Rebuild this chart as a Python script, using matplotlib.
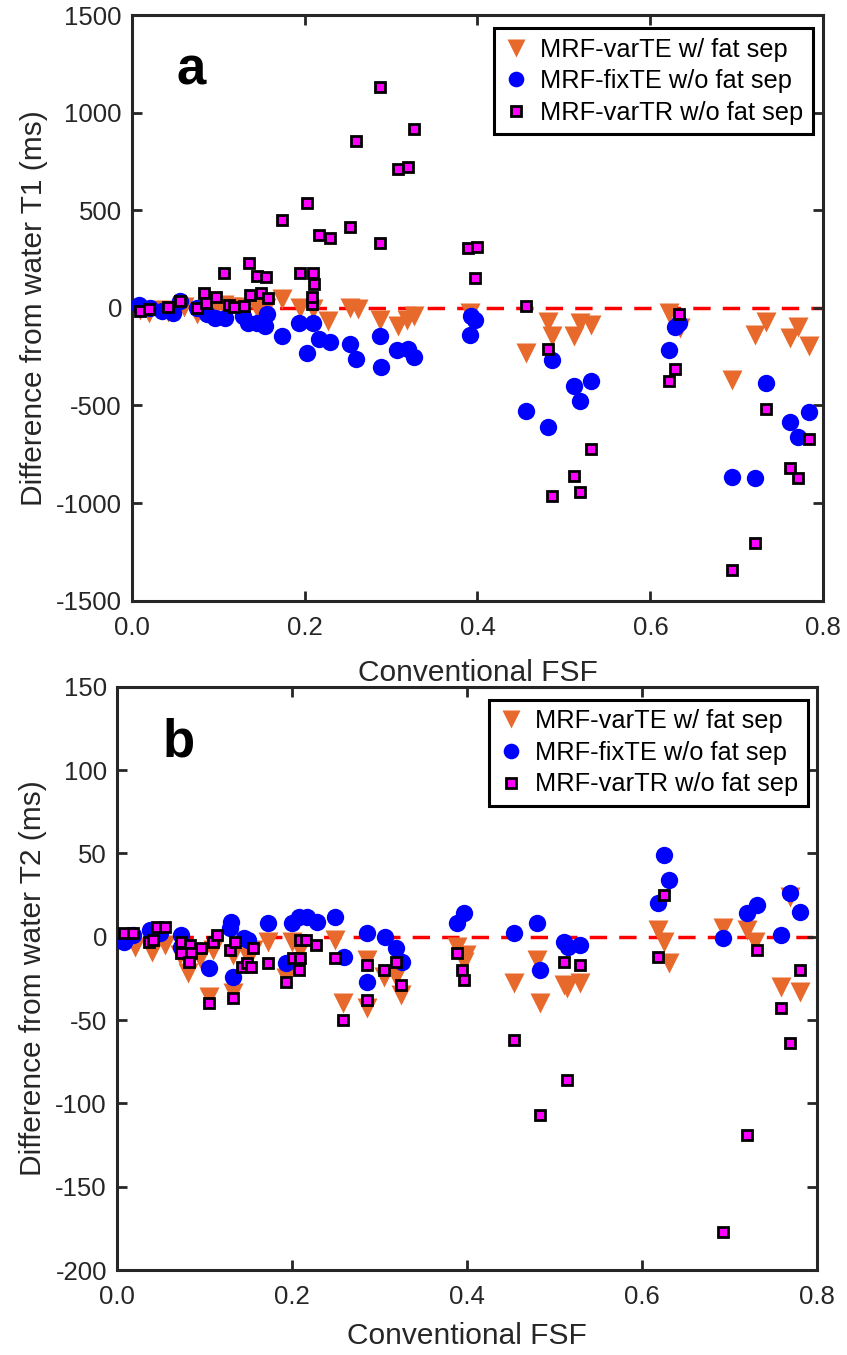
import numpy as np
import matplotlib.pyplot as plt
from matplotlib.ticker import FormatStrFormatter

plt.rcParams['font.family'] = ['Liberation Sans', 'DejaVu Sans']
plt.rcParams['axes.unicode_minus'] = False

# ---- panel a : T1 differences (ms) ----
t1_varte_fsf = [0.010, 0.020, 0.035, 0.042, 0.050, 0.060, 0.075, 0.087, 0.096, 0.107, 0.115, 0.130,
                0.145, 0.155, 0.174, 0.195, 0.210, 0.227, 0.252, 0.262, 0.287, 0.308, 0.318, 0.326,
                0.391, 0.456, 0.481, 0.486, 0.512, 0.518, 0.531, 0.621, 0.634, 0.694, 0.721, 0.734,
                0.761, 0.771, 0.783]
t1_varte = [-10, -25, -10, -20, -15, 5, -30, -20, -10, 17, 5, 5,
            0, 0, 43, 0, -5, -68, 0, -5, -61, -94, -61, -43,
            -26, -231, -74, -146, -146, -77, -89, -26, -103, -368, -137, -72,
            -154, -99, -197]

t1_fixte_fsf = [0.009, 0.021, 0.035, 0.048, 0.056, 0.075, 0.087, 0.096, 0.108, 0.129, 0.135, 0.145,
                0.154, 0.156, 0.174, 0.194, 0.203, 0.210, 0.217, 0.229, 0.252, 0.259, 0.287, 0.288,
                0.307, 0.320, 0.326, 0.391, 0.393, 0.397, 0.456, 0.481, 0.486, 0.512, 0.518, 0.531,
                0.621, 0.628, 0.633, 0.694, 0.721, 0.734, 0.761, 0.771, 0.783]
t1_fixte = [17, 0, -17, -25, 34, 0, -34, -51, -51, -43, -77, -77,
            -94, -34, -144, -77, -231, -77, -157, -175, -183, -260, -144, -305,
            -214, -209, -254, -137, -43, -60, -528, -609, -265, -398, -476, -377,
            -214, -99, -77, -866, -874, -386, -586, -660, -535]

t1_vartr_fsf = [0.010, 0.020, 0.042, 0.056, 0.075, 0.084, 0.086, 0.097, 0.107, 0.112, 0.118, 0.130,
                0.136, 0.137, 0.145, 0.150, 0.155, 0.158, 0.174, 0.195, 0.203, 0.208, 0.209, 0.210,
                0.211, 0.217, 0.229, 0.252, 0.259, 0.287, 0.287, 0.308, 0.320, 0.326, 0.389, 0.397,
                0.399, 0.456, 0.481, 0.486, 0.512, 0.518, 0.531, 0.621, 0.628, 0.633, 0.694, 0.721,
                0.734, 0.761, 0.771, 0.783]
t1_vartr = [-17, -8, 4, 34, 0, 77, 23, 55, 180, 14, 4, 12,
            231, 65, 163, 76, 159, 51, 449, 180, 535, 21, 55, 180,
            123, 373, 358, 416, 857, 1129, 331, 712, 720, 914, 306, 151,
            310, 12, -211, -965, -861, -943, -723, -373, -314, -31, -1344, -1207,
            -517, -818, -871, -672]

# ---- panel b : T2 differences (ms) ----
t2_varte_fsf = [0.008, 0.021, 0.040, 0.055, 0.072, 0.082, 0.095, 0.105, 0.110, 0.133, 0.133, 0.150,
                0.156, 0.173, 0.194, 0.200, 0.210, 0.250, 0.259, 0.286, 0.286, 0.306, 0.319, 0.325,
                0.389, 0.399, 0.397, 0.454, 0.480, 0.484, 0.511, 0.515, 0.529, 0.619, 0.626, 0.631,
                0.693, 0.720, 0.729, 0.759, 0.769, 0.781]
t2_varte = [-2, -6, -9, -5, -11, -22, -13, -36, -8, -34, -11, -12,
            -8, -3, -25, -3, -8, -2, -40, -14, -43, -24, -24, -35,
            -6, -11, -15, -28, -14, -40, -29, -31, -28, 4, -3, -16,
            5, 4, -3, -30, 24, -33]

t2_fixte_fsf = [0.008, 0.019, 0.038, 0.049, 0.073, 0.074, 0.105, 0.131, 0.130, 0.133, 0.145, 0.150,
                0.173, 0.194, 0.200, 0.208, 0.217, 0.229, 0.250, 0.260, 0.286, 0.286, 0.307, 0.319,
                0.326, 0.389, 0.397, 0.454, 0.480, 0.484, 0.511, 0.516, 0.529, 0.619, 0.626, 0.631,
                0.693, 0.720, 0.732, 0.759, 0.769, 0.781]
t2_fixte = [-3, 1, 4, 2, 1, -6, -19, 9, 5, -24, -1, -2,
            8, -16, 8, 12, 12, 9, 12, -12, 2, -27, 0, -7,
            -15, 8, 14, 2, 8, -20, -3, -6, -5, 20, 49, 34,
            -1, 14, 19, 1, 26, 15]

t2_vartr_fsf = [0.008, 0.019, 0.037, 0.041, 0.046, 0.055, 0.073, 0.084, 0.096, 0.073, 0.085, 0.083,
                0.105, 0.110, 0.115, 0.130, 0.135, 0.133, 0.143, 0.149, 0.154, 0.156, 0.173, 0.194,
                0.201, 0.210, 0.208, 0.210, 0.216, 0.228, 0.250, 0.259, 0.286, 0.286, 0.306, 0.319,
                0.325, 0.389, 0.395, 0.397, 0.454, 0.484, 0.511, 0.515, 0.529, 0.619, 0.626, 0.693,
                0.720, 0.732, 0.759, 0.769, 0.781]
t2_vartr = [2, 2, -3, -2, 6, 6, -3, -5, -7, -10, -10, -15,
            -40, -3, 1, -8, -3, -37, -18, -16, -18, -7, -16, -27,
            -13, -13, -20, -2, -2, -5, -13, -50, -17, -38, -20, -15,
            -29, -10, -20, -26, -62, -107, -15, -86, -17, -12, 25, -177,
            -119, -8, -43, -64, -20]

labels = ['MRF-varTE w/ fat sep', 'MRF-fixTE w/o fat sep', 'MRF-varTR w/o fat sep']
orange = '#E8692C'
blue = '#0000FF'
pink = '#FF00FF'
dark = '#262626'

fig = plt.figure(figsize=(8.47, 13.55), dpi=100)
ax1 = fig.add_axes([0.1555, 0.5567, 0.8165, 0.4322])
ax2 = fig.add_axes([0.1378, 0.0627, 0.8264, 0.4305])


def draw(ax, fsf1, v1, fsf2, v2, fsf3, v3, ylim, yticks, ylabel, letter, leg_anchor, xlabpad):
    ax.axhline(0, color='red', lw=2.5, ls=(0, (5, 3.5)), zorder=1)
    ax.plot(fsf1, v1, 'v', color=orange, ms=14, mec='none', label=labels[0], zorder=2)
    ax.plot(fsf2, v2, 'o', color=blue, ms=12.5, mec='none', label=labels[1], zorder=3)
    ax.plot(fsf3, v3, 's', mfc=pink, mec='black', mew=2, ms=7.5, label=labels[2], zorder=4)
    ax.set_xlim(0, 0.8)
    ax.set_ylim(*ylim)
    ax.set_xticks([0, 0.2, 0.4, 0.6, 0.8])
    ax.set_yticks(yticks)
    ax.xaxis.set_major_formatter(FormatStrFormatter('%.1f'))
    ax.tick_params(direction='in', length=7, width=2, labelsize=18.5, colors=dark,
                   top=True, right=True)
    ax.tick_params(axis='x', pad=11)
    ax.tick_params(axis='y', pad=7)
    for s in ax.spines.values():
        s.set_linewidth(2.2)
        s.set_color(dark)
    ax.set_xlabel('Conventional FSF', fontsize=21.5, color=dark, labelpad=xlabpad)
    ax.set_ylabel(ylabel, fontsize=21.5, color=dark, labelpad=6)
    ax.text(0.065, 0.905, letter, transform=ax.transAxes, fontsize=38,
            fontweight='bold', va='center', ha='left')
    leg = ax.legend(loc='upper right', bbox_to_anchor=leg_anchor, fontsize=18.3,
                    frameon=True, fancybox=False, edgecolor='black', framealpha=1,
                    handlelength=1.0, handletextpad=0.45, labelspacing=0.3,
                    borderpad=0.38, borderaxespad=0, markerscale=0.9)
    leg.get_frame().set_linewidth(2.2)


draw(ax1, t1_varte_fsf, t1_varte, t1_fixte_fsf, t1_fixte, t1_vartr_fsf, t1_vartr,
     (-1500, 1500), np.arange(-1500, 1501, 500), 'Difference from water T1 (ms)', 'a',
     (0.985, 0.978), 14)
draw(ax2, t2_varte_fsf, t2_varte, t2_fixte_fsf, t2_fixte, t2_vartr_fsf, t2_vartr,
     (-200, 150), np.arange(-200, 151, 50), 'Difference from water T2 (ms)', 'b',
     (0.988, 0.978), 9)

fig.savefig('out.png', dpi=100)
